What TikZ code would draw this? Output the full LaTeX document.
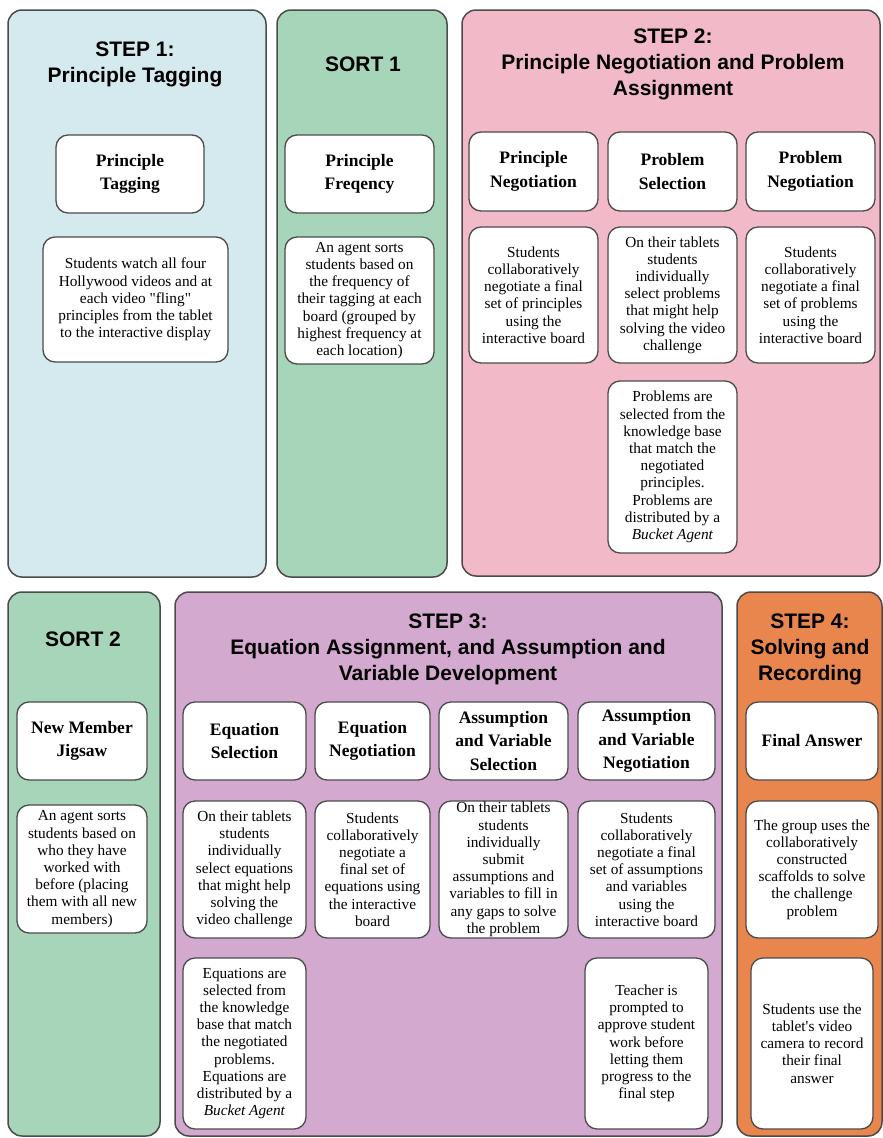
\documentclass[tikz,border=0pt]{standalone}
\usepackage{fontspec}
\setmainfont{Liberation Serif}
\newfontfamily\titlefont{Liberation Sans}
\definecolor{bluep}{RGB}{213,234,238}
\definecolor{greenp}{RGB}{166,213,186}
\definecolor{pinkp}{RGB}{242,186,200}
\definecolor{purplep}{RGB}{212,169,207}
\definecolor{orangep}{RGB}{233,134,77}
\definecolor{edgec}{RGB}{75,75,75}
\begin{document}
\begin{tikzpicture}[x=1pt,y=-1pt,
  panel/.style={draw=edgec,line width=1.5pt,rounded corners=14pt,inner sep=0pt},
  ttl/.style={align=center,font=\titlefont\bfseries\fontsize{21}{26}\selectfont,inner sep=0pt},
  hbox/.style={draw=edgec,fill=white,line width=1.3pt,rounded corners=12pt,align=center,inner sep=0pt,font=\bfseries\fontsize{17.5}{23.5}\selectfont},
  bbox/.style={draw=edgec,fill=white,line width=1.3pt,rounded corners=12pt,align=center,inner sep=0pt,font=\fontsize{15.3}{17.2}\selectfont}]
\useasboundingbox (0,0) rectangle (883,1138);
\fill[white] (0,0) rectangle (883,1138);
% panels
\node[panel,fill=bluep,minimum width=258pt,minimum height=567pt] (P1) at (137,293.5) {};
\node[panel,fill=greenp,minimum width=170pt,minimum height=567pt] (S1) at (362,293.5) {};
\node[panel,fill=pinkp,minimum width=418pt,minimum height=566pt] (P2) at (671,293) {};
\node[panel,fill=greenp,minimum width=152pt,minimum height=544pt] (S2) at (84,864) {};
\node[panel,fill=purplep,minimum width=547pt,minimum height=544pt] (P3) at (448.5,864) {};
\node[panel,fill=orangep,minimum width=145pt,minimum height=544pt] (P4) at (809.5,864) {};
% titles
\node[ttl] (T1) at (135,64) {STEP 1:\\Principle Tagging};
\node[ttl] (TS1) at (363,64) {SORT 1};
\node[ttl] (T2) at (673,64) {STEP 2:\\Principle Negotiation and Problem\\Assignment};
\node[ttl] (TS2) at (83,639) {SORT 2};
\node[ttl] (T3) at (448,649) {STEP 3:\\Equation Assignment, and Assumption and\\Variable Development};
\node[ttl] (T4) at (810,649) {STEP 4:\\Solving and\\Recording};
% step 1
\node[hbox,minimum width=148pt,minimum height=78pt] (h1) at (130,174) {Principle\\Tagging};
\node[bbox,minimum width=185pt,minimum height=125pt] (b1) at (135.5,299.5) {Students watch all four\\Hollywood videos and at\\each video \textquotedbl fling\textquotedbl\\principles from the tablet\\to the interactive display};
% sort 1
\node[hbox,minimum width=149pt,minimum height=78pt] (hs1) at (359.5,174) {Principle\\Freqency};
\node[bbox,minimum width=149pt,minimum height=127pt] (bs1) at (359.5,300.5) {An agent sorts\\students based on\\the frequency of\\their tagging at each\\board (grouped by\\highest frequency at\\each location)};
% step 2
\node[hbox,minimum width=129pt,minimum height=79pt] (h2a) at (533.5,171.5) {Principle\\Negotiation};
\node[hbox,minimum width=129pt,minimum height=79pt] (h2b) at (672.5,171.5) {Problem\\Selection};
\node[hbox,minimum width=129pt,minimum height=79pt] (h2c) at (810.5,171.5) {Problem\\Negotiation};
\node[bbox,minimum width=129pt,minimum height=136pt] (b2a) at (533.5,295) {Students\\collaboratively\\negotiate a final\\set of principles\\using the\\interactive board};
\node[bbox,minimum width=129pt,minimum height=136pt] (b2b) at (672.5,295) {On their tablets\\students\\individually\\select problems\\that might help\\solving the video\\challenge};
\node[bbox,minimum width=129pt,minimum height=136pt] (b2c) at (810.5,295) {Students\\collaboratively\\negotiate a final\\set of problems\\using the\\interactive board};
\node[bbox,minimum width=129pt,minimum height=172pt] (b2d) at (672.5,467) {Problems are\\selected from the\\knowledge base\\that match the\\negotiated\\principles.\\Problems are\\distributed by a\\\textit{Bucket Agent}};
% sort 2
\node[hbox,minimum width=130pt,minimum height=78pt] (hs2) at (82,741) {New Member\\Jigsaw};
\node[bbox,minimum width=130pt,minimum height=128pt] (bs2) at (82,869) {An agent sorts\\students based on\\who they have\\worked with\\before (placing\\them with all new\\members)};
% step 3
\node[hbox,minimum width=123pt,minimum height=78pt] (h3a) at (244.5,741) {Equation\\Selection};
\node[hbox,minimum width=115pt,minimum height=78pt] (h3b) at (372.5,741) {Equation\\Negotiation};
\node[hbox,minimum width=129pt,minimum height=78pt] (h3c) at (503.5,741) {Assumption\\and Variable\\Selection};
\node[hbox,minimum width=137pt,minimum height=78pt] (h3d) at (646.5,741) {Assumption\\and Variable\\Negotiation};
\node[bbox,minimum width=123pt,minimum height=137pt] (b3a) at (244.5,869.5) {On their tablets\\students\\individually\\select equations\\that might help\\solving the\\video challenge};
\node[bbox,minimum width=115pt,minimum height=137pt] (b3b) at (372.5,869.5) {Students\\collaboratively\\negotiate a\\final set of\\equations using\\the interactive\\board};
\node[bbox,minimum width=129pt,minimum height=137pt] (b3c) at (503.5,869.5) {On their tablets\\students\\individually\\submit\\assumptions and\\variables to fill in\\any gaps to solve\\the problem};
\node[bbox,minimum width=137pt,minimum height=137pt] (b3d) at (646.5,869.5) {Students\\collaboratively\\negotiate a final\\set of assumptions\\and variables\\using the\\interactive board};
\node[bbox,minimum width=123pt,minimum height=171pt] (b3e) at (244.5,1043.5) {Equations are\\selected from\\the knowledge\\base that match\\the negotiated\\problems.\\Equations are\\distributed by a\\\textit{Bucket Agent}};
\node[bbox,minimum width=123pt,minimum height=171pt] (b3f) at (646.5,1043.5) {Teacher is\\prompted to\\approve student\\work before\\letting them\\progress to the\\final step};
% step 4
\node[hbox,minimum width=132pt,minimum height=78pt] (h4) at (812,741) {Final Answer};
\node[bbox,minimum width=132pt,minimum height=137pt] (b4a) at (812,869.5) {The group uses the\\collaboratively\\constructed\\scaffolds to solve\\the challenge\\problem};
\node[bbox,minimum width=122pt,minimum height=171pt] (b4b) at (812,1043.5) {Students use the\\tablet\textquotesingle s video\\camera to record\\their final\\answer};
\end{tikzpicture}
\end{document}
